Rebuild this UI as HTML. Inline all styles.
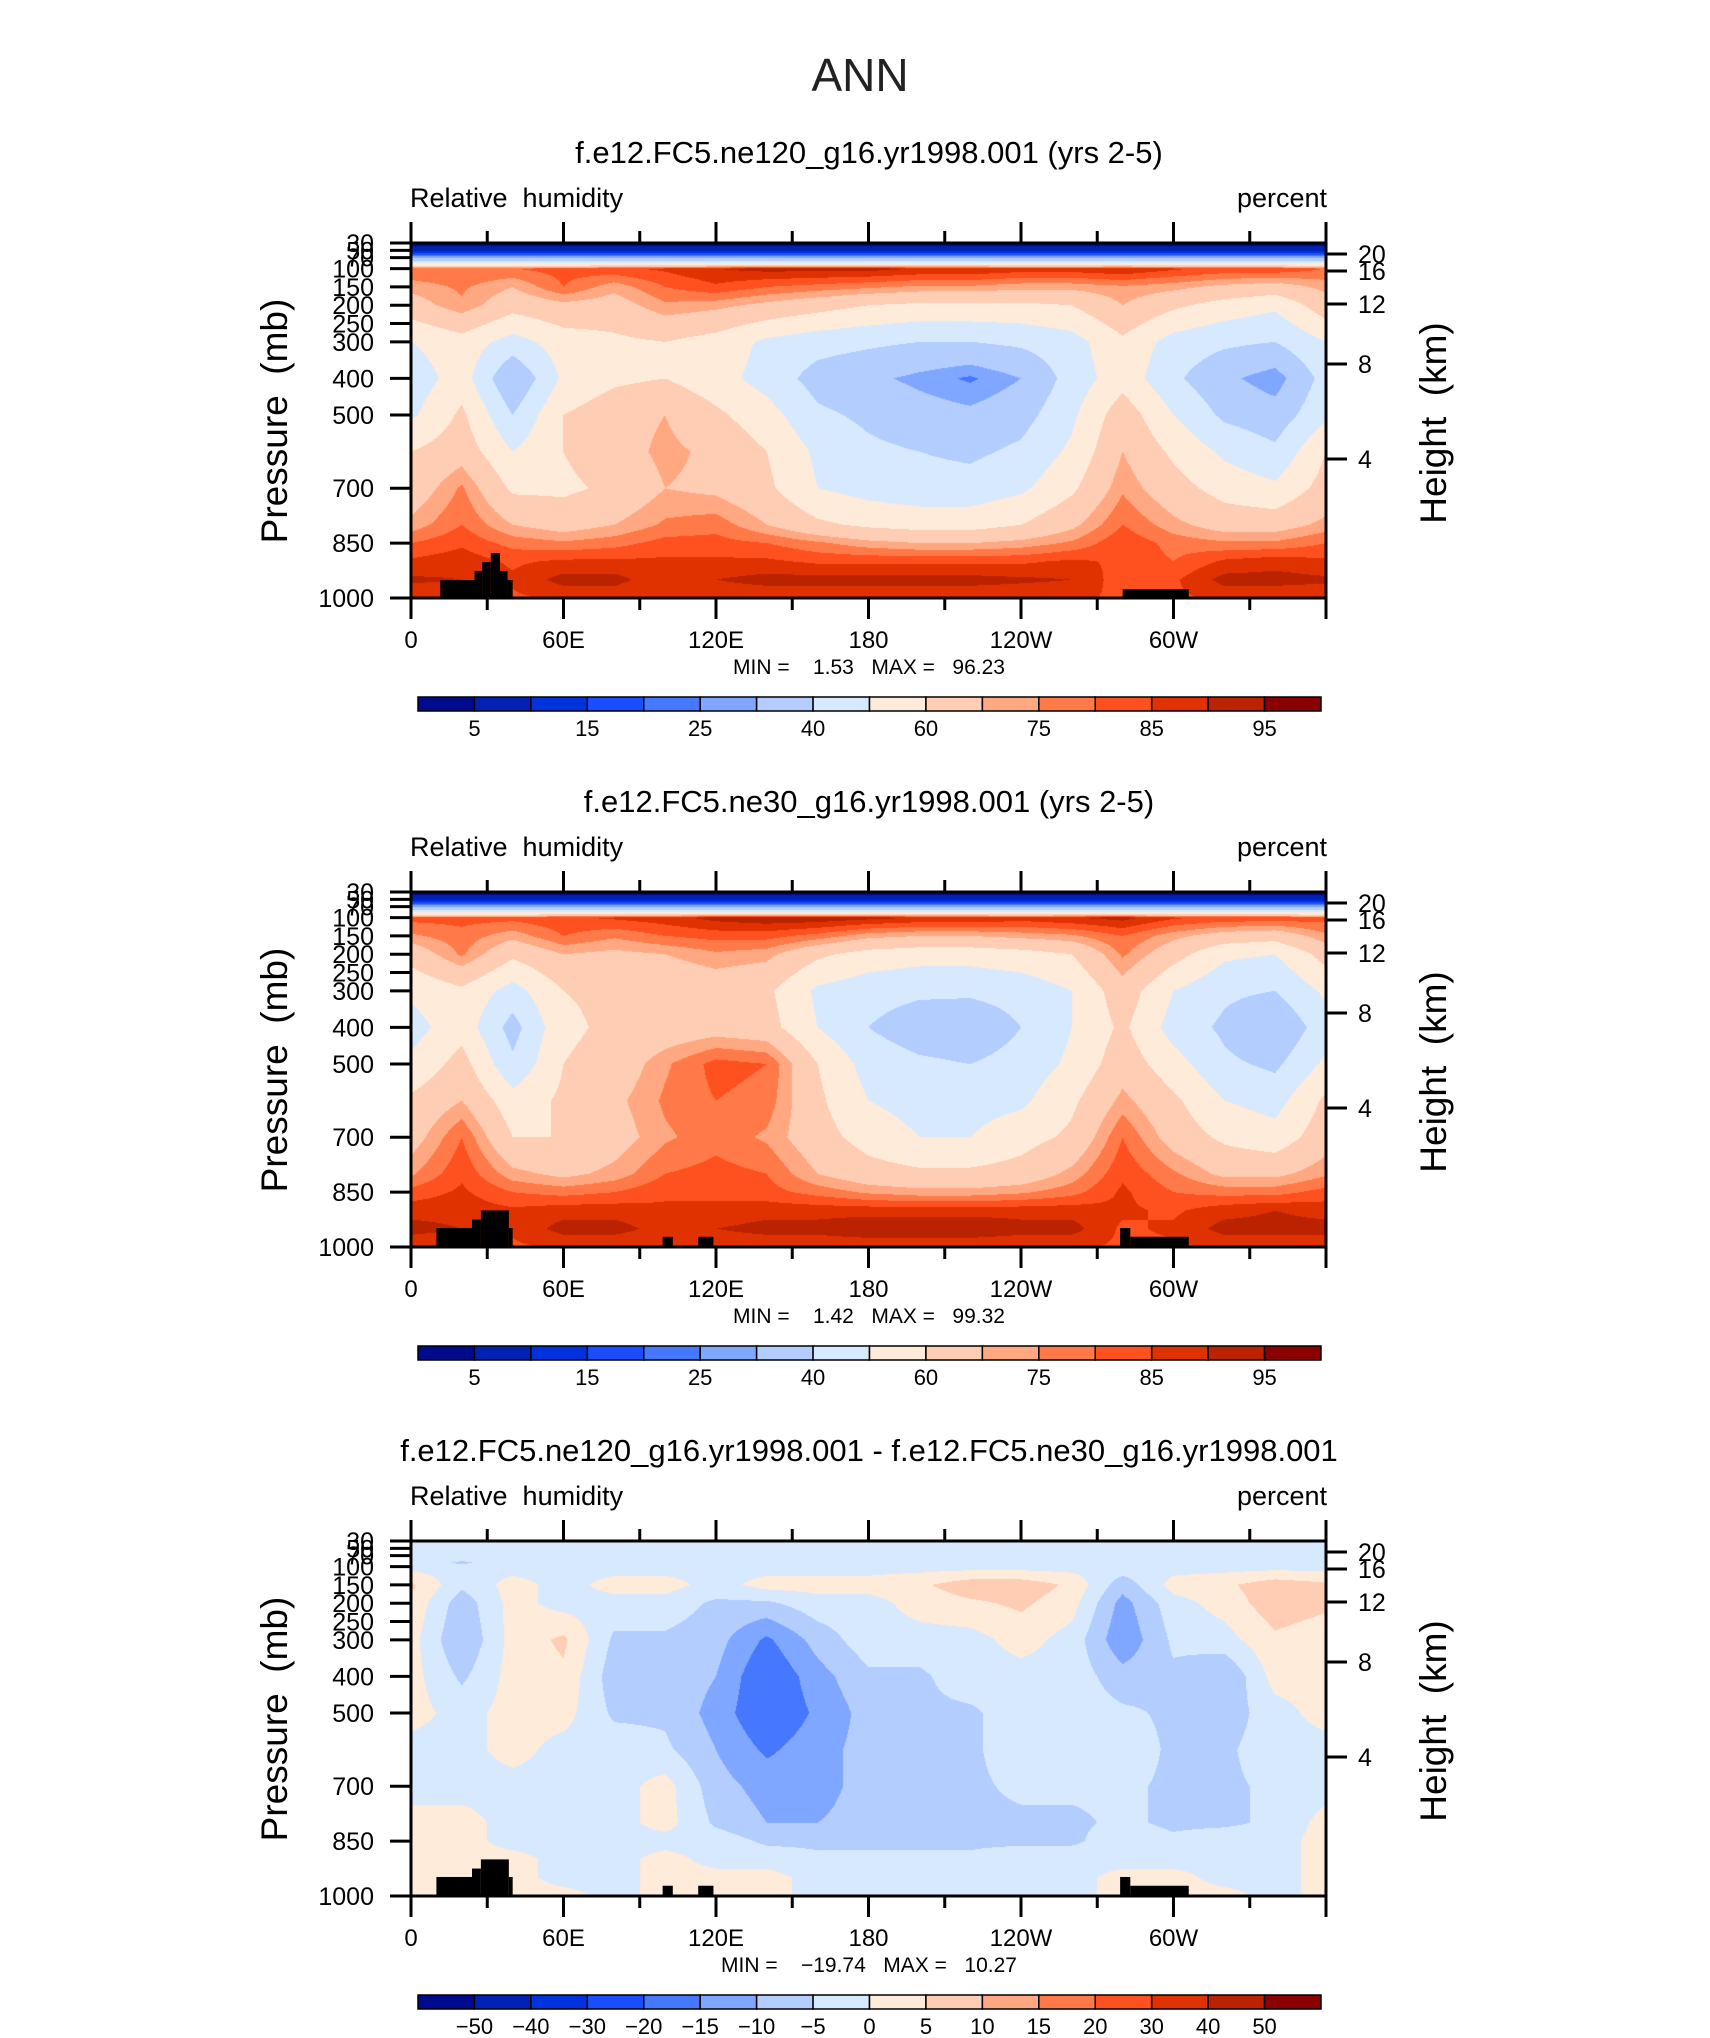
<!DOCTYPE html>
<html><head><meta charset="utf-8">
<style>
html,body{margin:0;padding:0;background:#fff;}
#root{position:relative;width:1710px;height:2038px;overflow:hidden;background:#fff;font-family:"Liberation Sans",sans-serif;}
canvas{position:absolute;}
svg{position:absolute;left:0;top:0;}
svg text{white-space:pre;}
</style></head>
<body>
<div id="root">
<svg id="svg" width="1710" height="2038"></svg>
</div>
<script>
// ---------- data ----------
const lons = [0,20,40,60,80,100,120,140,160,180,200,220,240,260,280,300,320,340,360];
const plevs = [30,50,70,90,100,150,200,300,400,500,600,700,800,850,900,950,1000];
const rhLevels = [5,10,15,20,25,30,40,50,60,70,75,80,85,90,95];
const rhTickLabels = ["5","","15","","25","","40","","60","","75","","85","","95"];
const diffLevels = [-50,-40,-30,-20,-15,-10,-5,0,5,10,15,20,30,40,50];
const diffTickLabels = ["\u221250","\u221240","\u221230","\u221220","\u221215","\u221210","\u22125","0","5","10","15","20","30","40","50"];
const pTicks = [30,50,70,100,150,200,250,300,400,500,700,850,1000];
const pTickLabels = ["30","50","70","100","150","200","250","300","400","500","700","850","1000"];
const hTicks = [20,16,12,8,4];
const hTickY = [11,28,61,121,216];
const lonTicks = [0,30,60,90,120,150,180,210,240,270,300,330,360];
const lonLabels = ["0","","60E","","120E","","180","","120W","","60W","",""];
const titles = ["f.e12.FC5.ne120_g16.yr1998.001 (yrs 2-5)","f.e12.FC5.ne30_g16.yr1998.001 (yrs 2-5)","f.e12.FC5.ne120_g16.yr1998.001 - f.e12.FC5.ne30_g16.yr1998.001"];
const minVals = ["1.53","1.42","\u221219.74"];
const maxVals = ["96.23","99.32","10.27"];

const rh1 = [
[2,2,2,2,2,2,2,2,2,2,2,2,2,2,2,2,2,2,2],
[9,9,9,9,9,9,9,9,9,9,9,9,9,9,9,9,9,9,9],
[28,28,28,28,28,28,28,28,28,28,28,28,28,28,28,28,28,28,28],
[56,56,56,56,56,56,56,56,56,56,56,56,56,56,56,56,56,56,56],
[80,80,80,82,84,86,90,92,92,92,90,90,88,88,90,86,84,84,80],
[72,76,70,80,72,80,84,80,78,76,74,74,72,72,74,72,68,66,72],
[66,74,64,68,66,74,72,68,64,60,58,58,58,60,70,62,56,52,66],
[50,56,46,55,58,60,56,48,44,42,40,40,42,46,58,46,42,40,50],
[44,55,30,52,58,60,54,46,36,32,28,24,30,44,56,42,32,26,44],
[48,62,40,60,66,70,62,54,42,38,34,32,36,48,66,50,38,34,48],
[60,66,50,60,66,72,68,60,48,42,40,38,42,52,70,58,48,42,60],
[64,76,58,58,62,70,68,62,50,46,44,44,48,58,74,64,56,52,64],
[72,80,70,66,70,76,78,70,62,58,56,56,60,68,80,72,66,66,72],
[80,84,78,76,78,82,82,80,76,72,70,70,72,76,84,78,76,76,80],
[86,88,84,86,86,86,86,86,84,84,84,84,84,86,84,80,86,88,86],
[91,90,86,92,92,86,90,92,92,92,92,92,91,90,82,84,92,92,91],
[86,86,84,86,86,86,86,86,86,86,86,86,86,86,84,84,86,86,86]];

const rh2 = [
[2,2,2,2,2,2,2,2,2,2,2,2,2,2,2,2,2,2,2],
[9,9,9,9,9,9,9,9,9,9,9,9,9,9,9,9,9,9,9],
[28,28,28,28,28,28,28,28,28,28,28,28,28,28,28,28,28,28,28],
[56,56,56,56,56,56,56,56,56,56,56,56,56,56,56,56,56,56,56],
[82,82,82,84,86,88,92,94,94,92,90,90,88,90,92,86,84,84,82],
[74,78,72,80,76,80,82,82,78,72,70,70,72,74,80,72,66,64,74],
[64,76,62,70,68,70,74,72,62,56,54,54,56,60,76,64,52,50,64],
[52,58,46,60,62,62,64,62,48,44,42,42,44,50,66,50,42,40,52],
[46,56,36,58,62,64,66,64,50,40,34,32,40,50,62,46,38,30,46],
[52,64,42,60,64,74,82,80,60,46,42,40,44,52,66,54,42,38,52],
[62,70,54,62,68,76,80,78,62,50,46,46,48,58,72,62,50,46,62],
[66,80,60,60,66,74,78,74,64,56,50,50,56,62,80,66,58,54,66],
[74,84,72,68,72,80,82,80,70,64,62,62,64,72,84,76,68,68,74],
[82,86,80,78,80,84,84,82,78,74,72,72,74,78,86,80,78,78,82],
[88,88,86,88,88,86,86,88,88,88,88,88,88,88,86,84,88,90,88],
[92,90,86,92,92,88,90,92,92,94,94,94,92,92,84,86,92,92,92],
[86,86,84,86,86,86,86,86,86,86,86,86,86,86,84,84,86,86,86]];

const diff = [
[-2,-2,-2,-2,-2,-2,-2,-2,-2,-2,-2,-2,-2,-2,-2,-2,-2,-2,-2],
[-2,-2,-2,-2,-2,-2,-2,-2,-2,-2,-2,-2,-2,-2,-2,-2,-2,-2,-2],
[-2,-2,-2,-2,-2,-2,-2,-2,-2,-2,-2,-2,-2,-2,-2,-2,-2,-2,-2],
[-2,-6,-2,-2,-2,-2,-2,-2,-2,-2,-2,-2,-2,-2,-2,-2,-2,-2,-2],
[-2,-2,-2,-2,-2,-2,-2,-2,-2,-2,-2,-2,-2,-2,-2,-2,-2,-2,-2],
[6,-4,2,-2,2,2,-2,2,2,2,4,8,8,4,-8,2,4,8,6],
[4,-8,2,-2,-2,-2,-6,-6,-2,-2,2,4,6,2,-12,-2,2,8,6],
[2,-10,2,6,-6,-6,-8,-16,-8,-2,-2,-2,2,-2,-14,-4,-2,4,2],
[2,-6,2,4,-8,-6,-10,-20,-12,-6,-6,-2,-2,-2,-8,-6,-10,2,2],
[2,-2,2,2,-6,-6,-12,-20,-14,-8,-6,-6,-2,-2,-4,-6,-8,-2,2],
[-2,-2,2,-2,-2,-4,-10,-16,-12,-8,-6,-6,-2,-2,-2,-6,-6,-2,-2],
[-2,-2,-2,-2,-2,2,-8,-12,-12,-8,-6,-6,-4,-4,-4,-6,-6,-4,-2],
[2,2,-2,-2,-2,2,-6,-10,-10,-8,-8,-6,-6,-6,-4,-6,-6,-4,2],
[2,2,-2,-2,-2,-2,-2,-6,-6,-6,-6,-6,-6,-6,-2,-4,-2,-2,2],
[2,2,2,-2,-2,2,-2,-2,-4,-4,-4,-4,-2,-2,-2,-2,-2,-2,2],
[2,2,2,-2,-2,2,2,2,-2,-2,-2,-2,-2,-2,2,2,-2,-2,2],
[2,2,2,2,-2,2,2,2,-2,-2,-2,-2,-2,-2,2,2,2,-2,2]];

const topoLon0a = [11.5,25,28,31.4,35,38,280];
const topoLon1a = [25,28,31.4,35,38,40,306];
const topoPsa   = [951,926,902,877,926,951,976];
const topoLon0b = [10,24,27.5,38.5,99,113,279,283];
const topoLon1b = [24,27.5,38.5,40,103,119,283,306];
const topoPsb   = [948,925,900,948,972,972,948,972];

const palette = ["#000a8c","#0022b4","#0033dd","#1a4dff","#4577ff","#80a7ff","#b3cdff","#d7e9ff","#ffebda","#ffcdb3","#ffa882","#ff7a48","#ff5020","#e03200","#bb2200","#8b0000"];

// ---------- layout ----------
const L=411, W=915, H=355, T0=243, DY=649;
const svg=document.getElementById('svg');
const NS="http://www.w3.org/2000/svg";
function el(tag,attrs,parent){const e=document.createElementNS(NS,tag);for(const k in attrs)e.setAttribute(k,attrs[k]);(parent||svg).appendChild(e);return e;}
function txt(s,attrs,parent){const e=el('text',attrs,parent);e.textContent=s;return e;}

const ann=txt("ANN",{x:860,y:91,'font-size':46,'text-anchor':'middle','font-family':'Liberation Sans, sans-serif','font-weight':'300',fill:'#222'});



function colorIdx(v,levels){let i=0;while(i<levels.length&&v>=levels[i])i++;return i;}
function hex2rgb(h){return [parseInt(h.substr(1,2),16),parseInt(h.substr(3,2),16),parseInt(h.substr(5,2),16)];}
const palRGB=palette.map(hex2rgb);

function xOf(lon){return L+lon/360*W;}
function yOf(p,T){return T+(p-30)/970*H;}

function drawField(grid,levels,T,name){
  const c=document.createElement('canvas');
  c.width=W;c.height=H;c.style.left=L+'px';c.style.top=T+'px';
  
  
  document.getElementById('root').insertBefore(c,svg);
  const ctx=c.getContext('2d');const img=ctx.createImageData(W,H);
  for(let py=0;py<H;py++){
    const p=30+(py+0.5)/H*970;
    let j=0;while(j<plevs.length-2&&p>plevs[j+1])j++;
    const fy=Math.max(0,Math.min(1,(p-plevs[j])/(plevs[j+1]-plevs[j])));
    for(let px=0;px<W;px++){
      const lon=(px+0.5)/W*360;
      let i=Math.min(lons.length-2,Math.floor(lon/20));
      const fx=(lon-lons[i])/(lons[i+1]-lons[i]);
      const v=(grid[j][i]*(1-fx)+grid[j][i+1]*fx)*(1-fy)+(grid[j+1][i]*(1-fx)+grid[j+1][i+1]*fx)*fy;
      const rgb=palRGB[colorIdx(v,levels)];
      const k=(py*W+px)*4;img.data[k]=rgb[0];img.data[k+1]=rgb[1];img.data[k+2]=rgb[2];img.data[k+3]=255;
    }
  }
  ctx.putImageData(img,0,0);
}

function drawPanel(idx){
  const T=T0+idx*DY;
  const g=el('g',{});
  
  
  const grid=idx===0?rh1:(idx===1?rh2:diff);
  const levels=idx===2?diffLevels:rhLevels;
  drawField(grid,levels,T,'contour-field-'+(idx+1));
  const t0=idx===0?topoLon0a:topoLon0b, t1=idx===0?topoLon1a:topoLon1b, tp=idx===0?topoPsa:topoPsb;
  for(let k=0;k<t0.length;k++){
    const r=el('rect',{x:xOf(t0[k]),y:yOf(tp[k],T),width:xOf(t1[k])-xOf(t0[k]),height:yOf(1000,T)-yOf(tp[k],T),fill:'#000'},g);
    
    
  }
  const tt=txt(titles[idx],{x:869,y:T-80,'font-size':31,'text-anchor':'middle',fill:'#000'},g);
  
  
  const lt=txt("Relative  humidity",{x:410,y:T-36,'font-size':27,fill:'#000','font-weight':'300'},g);
  
  
  const rt=txt("percent",{x:1327,y:T-36,'font-size':27,'text-anchor':'end',fill:'#000'},g);
  
  
  const fr=el('rect',{x:L,y:T,width:W,height:H,fill:'none',stroke:'#000','stroke-width':3},g);
  
  
  lonTicks.forEach((lon,k)=>{
    const major=(lon%60===0);const len=major?21:12;const x=xOf(lon);
    el('line',{x1:x,y1:T,x2:x,y2:T-len,stroke:'#000','stroke-width':3},g);
    el('line',{x1:x,y1:T+H,x2:x,y2:T+H+len,stroke:'#000','stroke-width':3},g);
    if(lonLabels[k]){
      const l=txt(lonLabels[k],{x:x,y:T+H+50,'font-size':24,'text-anchor':'middle',fill:'#000'},g);
      
      
    }
  });
  pTicks.forEach((p,k)=>{
    const y=yOf(p,T);
    el('line',{x1:L,y1:y,x2:L-21,y2:y,stroke:'#000','stroke-width':3},g);
    const l=txt(pTickLabels[k],{x:374,y:y+9,'font-size':25,'text-anchor':'end',fill:'#000'},g);
    
    
  });
  const yl=txt("Pressure  (mb)",{x:0,y:0,'font-size':37,'text-anchor':'middle',fill:'#000','font-weight':'300',transform:'translate(287,'+(T+178)+') rotate(-90)'},g);
  
  
  hTicks.forEach((h,k)=>{
    const y=T+hTickY[k];
    el('line',{x1:L+W,y1:y,x2:L+W+21,y2:y,stroke:'#000','stroke-width':3},g);
    const l=txt(String(h),{x:1358,y:y+9,'font-size':25,fill:'#000'},g);
    
    
  });
  const hl=txt("Height  (km)",{x:0,y:0,'font-size':37,'text-anchor':'middle',fill:'#000','font-weight':'300',transform:'translate(1446,'+(T+180)+') rotate(-90)'},g);
  
  
  const mm=txt("MIN =    "+minVals[idx]+"   MAX =   "+maxVals[idx],{x:869,y:T+H+76,'font-size':21,'text-anchor':'middle',fill:'#000'},g);
  
  
  const cbX=418,cbW=903,cbY=T+454,cbH=14,n=palette.length,bw=cbW/n;
  const cb=el('g',{},g);
  
  
  for(let k=0;k<n;k++){
    const r=el('rect',{x:cbX+k*bw,y:cbY,width:bw,height:cbH,fill:palette[k],stroke:'#000','stroke-width':1.5},cb);
    
    
  }
  const labs=idx===2?diffTickLabels:rhTickLabels;
  labs.forEach((s,k)=>{
    if(!s)return;
    const l=txt(s,{x:cbX+(k+1)*bw,y:cbY+cbH+25,'font-size':22,'text-anchor':'middle',fill:'#000'},cb);
    
    
  });
}
drawPanel(0);drawPanel(1);drawPanel(2);
</script>
</body></html>
